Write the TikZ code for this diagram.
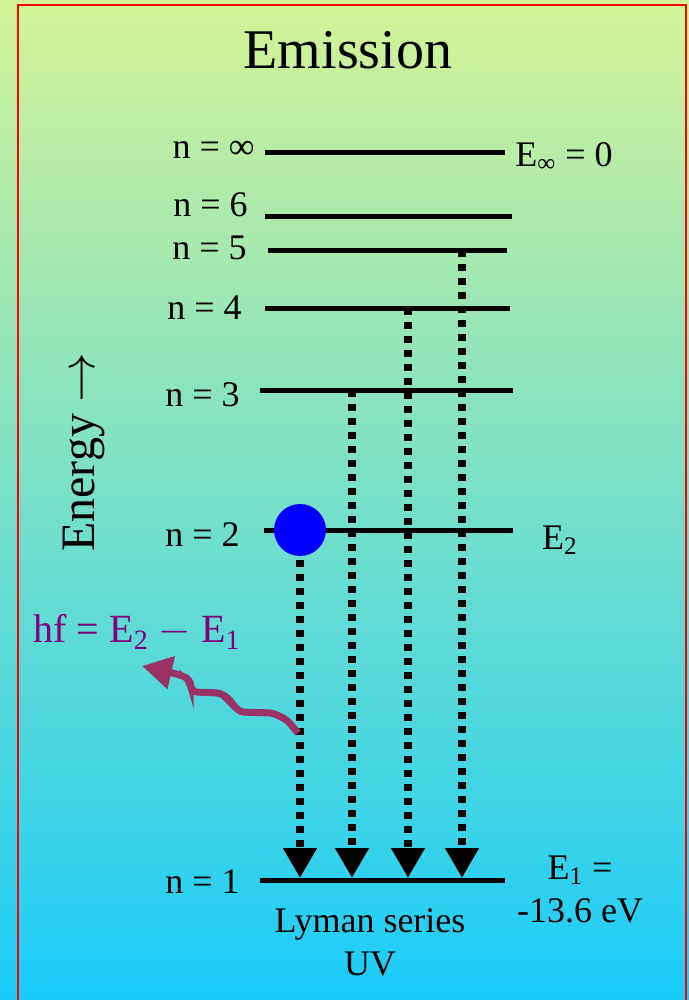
\documentclass[tikz,border=0pt]{standalone}
\usepackage{fontspec}
\setmainfont{Liberation Serif}
\usetikzlibrary{arrows.meta}

\definecolor{bgtop}{RGB}{212,243,150}
\definecolor{bgmid}{RGB}{135,222,205}
\definecolor{bgbot}{RGB}{26,204,250}
\definecolor{photon}{RGB}{153,51,102}
\definecolor{hfpurple}{RGB}{128,0,128}

\begin{document}
\begin{tikzpicture}[x=0.5pt,y=-0.5pt,
  level/.style={line width=2.5pt},
  lvltext/.style={font=\fontsize{18}{21.5}\selectfont, inner sep=0pt},
  jump/.style={line width=4pt, dash pattern=on 3.5pt off 3.5pt,
    -{Triangle[width=16pt,length=15pt]}},
  wave/.style={photon, line width=3.5pt, rounded corners=2pt,
    -{Triangle[width=16pt,length=15pt]}}]
  \useasboundingbox (0,0) rectangle (689,1000);
  \clip (0,0) rectangle (689,1000);
  \shade[top color=bgtop, middle color=bgmid, bottom color=bgbot] (0,0) rectangle (689,1000);
  \draw[red, line width=1pt] (18,5) rectangle (686,1020);

  \node[font=\fontsize{28}{32}\selectfont] (title) at (348,50) {Emission};

  % energy levels
  \foreach \i/\t/\y/\xa/\xb/\lx/\ly in {inf/∞/153/265/505/255/150,
      6/6/217/265/512/248/205, 5/5/250/268/507/247/248, 4/4/308/265/510/242/308,
      3/3/390/260/513/240/395, 2/2/530/264/513/240/535, 1/1/880/260/505/240/882} {
    \coordinate (L\i w) at (\xa,\y);
    \coordinate (L\i e) at (\xb,\y);
    \draw[level] (L\i w) -- (L\i e);
    \node[lvltext, anchor=east] (n\i) at (\lx,\ly) {n = \t};
  }

  \node[circle, fill=blue, inner sep=0pt, minimum size=26pt] (electron) at (300,530) {};

  % transitions
  \coordinate (T2) at (300,878);
  \draw[jump] ([yshift=-2pt]electron.south) -- (T2);
  \foreach \i/\x in {3/352,4/408,5/462} {
    \coordinate (T\i) at (\x,878);
    \draw[jump] (L\i w -| T\i) -- (T\i);
  }

  \coordinate (emit) at (298,733);
  \draw[wave] (emit) -- (287,720) -- (273,713) -- (240,712) -- (235,707)
    -- (228,698) -- (220,693) -- (193,692) -- (190,685) -- (190,680)
    -- (183,676) -- (173,673) -- (142,666);

  \node[lvltext, anchor=west] (Einf) at (515,157) {E\textsubscript{∞} = 0};
  \node[lvltext] (E2) at (560,540) {E\textsubscript{2}};
  \node[lvltext, align=center] (E1) at (580,889) {E\textsubscript{1} =\\-13.6 eV};
  \node[lvltext, align=center] (lyman) at (370,942) {Lyman series\\UV};
  \node[lvltext, hfpurple, font=\fontsize{20}{24}\selectfont] (hf) at (137,632)
    {hf = E\textsubscript{2} $-$ E\textsubscript{1}};
  \node[rotate=90, font=\fontsize{24}{28}\selectfont] (energy) at (84,452) {Energy $\rightarrow$};
\end{tikzpicture}
\end{document}
